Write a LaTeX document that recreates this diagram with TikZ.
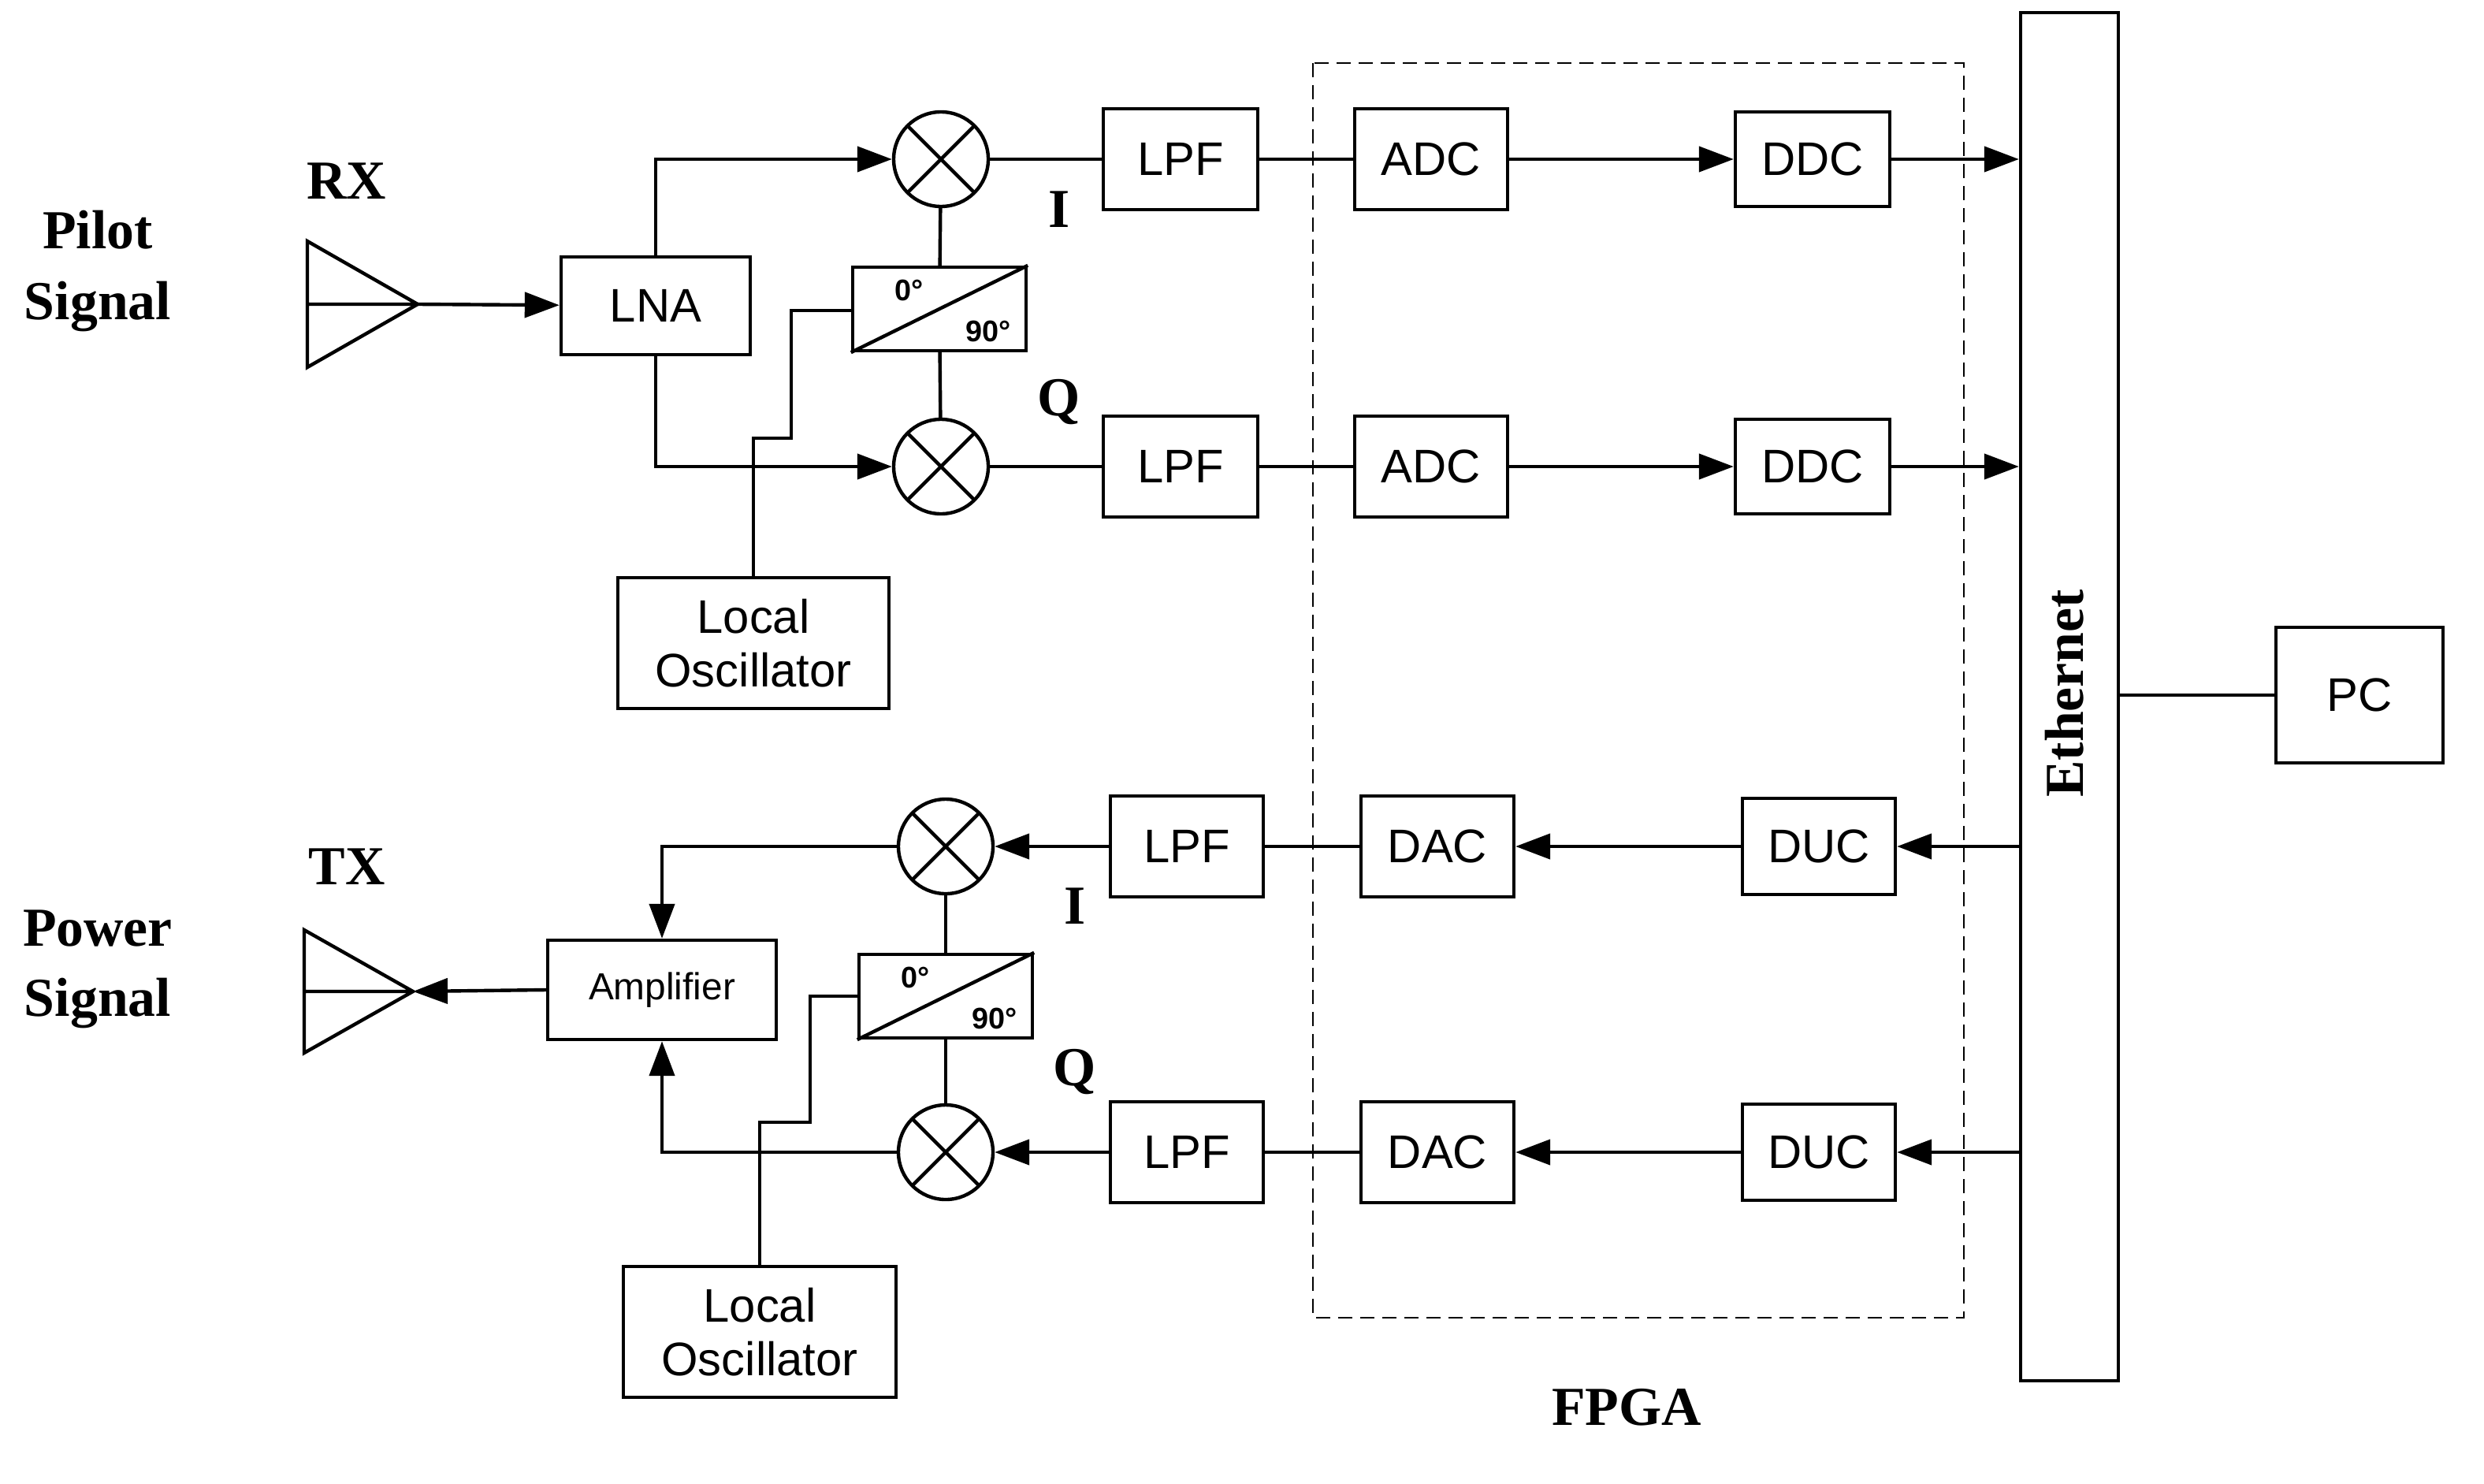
\documentclass[tikz,border=0pt]{standalone}
\usepackage{fontspec}
\setmainfont{Liberation Serif}
\setsansfont{Liberation Sans}
\usetikzlibrary{arrows.meta}
\begin{document}
\begin{tikzpicture}[x=1bp,y=-1bp,line width=2.2bp,
  box/.style={draw,inner sep=0pt,font=\sffamily\fontsize{30}{34}\selectfont,align=center},
  lbl/.style={font=\bfseries\fontsize{35}{45}\selectfont,align=center},
  arr/.style={-{Triangle[length=22bp,width=16bp]}},
  mix/.style={draw,circle,minimum size=60bp,inner sep=0pt,path picture={
    \draw ([shift={(-21bp,-21bp)}]path picture bounding box.center)--([shift={(21bp,21bp)}]path picture bounding box.center);
    \draw ([shift={(-21bp,21bp)}]path picture bounding box.center)--([shift={(21bp,-21bp)}]path picture bounding box.center);}}]
\useasboundingbox (0,0) rectangle (1576,941);
% labels
\node[lbl] at (62,172) {Pilot\\Signal};
\node[lbl] at (62,615) {Power\\Signal};
\node[lbl] at (220,115) {RX};
\node[lbl] at (220,550) {TX};
\node[lbl] at (1032,893) {FPGA};
\node[lbl] at (672,133) {I};
\node[lbl] at (672,255) {Q};
\node[lbl] at (682,575) {I};
\node[lbl] at (682,680) {Q};
% antennas
\draw (195,153) -- (265,193) -- (195,233) -- cycle (195,193) -- (265,193);
\coordinate (rxa) at (265,193);
\draw (193,590) -- (262,629) -- (193,668) -- cycle (193,629) -- (262,629);
\coordinate (txa) at (262,629);
% FPGA + Ethernet + PC
\draw[dash pattern=on 9bp off 5bp,line width=1.4bp] (833,40) rectangle (1246,836);
\node[box,minimum width=62bp,minimum height=868bp] (eth) at (1313,442) {};
\node[lbl,rotate=90] at (1310,440) {Ethernet};
\node[box,minimum width=106bp,minimum height=86bp] (pc) at (1497,441) {PC};
\draw (eth.east |- pc) -- (pc);
% RX chain
\node[box,minimum width=120bp,minimum height=62bp] (lna) at (416,194) {LNA};
\draw[arr] (rxa) -- (lna);
\foreach \r/\y in {i/101,q/296}{
  \node[mix] (m\r) at (597,\y) {};
  \node[box,minimum width=98bp,minimum height=64bp] (lpf\r) at (749,\y) {LPF};
  \node[box,minimum width=97bp,minimum height=64bp] (adc\r) at (908,\y) {ADC};
  \node[box,minimum width=98bp,minimum height=60bp] (ddc\r) at (1150,\y) {DDC};
  \draw (m\r) -- (lpf\r);
  \draw (lpf\r) -- (adc\r);
  \draw[arr] (adc\r) -- (ddc\r);
  \draw[arr] (ddc\r) -- (eth.west |- ddc\r);
}
\draw[arr] (lna.north) |- (mi);
\draw[arr] (lna.south) |- (mq);
\node[draw,minimum width=110bp,minimum height=53bp,inner sep=0pt] (ph1) at (596,196) {};
\draw (ph1.south west) -- (ph1.north east);
\node[font=\sffamily\bfseries\fontsize{19}{20}\selectfont] at (577,184) {0°};
\node[font=\sffamily\bfseries\fontsize{19}{20}\selectfont] at (627,210) {90°};
\draw (mi) -- (ph1); \draw (ph1) -- (mq);
\node[box,minimum width=172bp,minimum height=83bp] (lo1) at (478,408) {Local\\Oscillator};
\draw (lo1.north) -- (478,278) -- (502,278) -- (502,197) -- (ph1.west |- 0,197);
% TX chain
\node[box,minimum width=145bp,minimum height=63bp,font=\sffamily\fontsize{24}{28}\selectfont] (amp) at (420,628) {Amplifier};
\draw[arr] (amp.west) -- (txa);
\foreach \r/\y in {i/537,q/731}{
  \node[mix] (t\r) at (600,\y) {};
  \node[box,minimum width=97bp,minimum height=64bp] (tlpf\r) at (753,\y) {LPF};
  \node[box,minimum width=97bp,minimum height=64bp] (dac\r) at (912,\y) {DAC};
  \node[box,minimum width=97bp,minimum height=61bp] (duc\r) at (1154,\y) {DUC};
  \draw[arr] (eth.west |- duc\r) -- (duc\r);
  \draw[arr] (duc\r) -- (dac\r);
  \draw (dac\r) -- (tlpf\r);
  \draw[arr] (tlpf\r) -- (t\r);
}
\draw[arr] (ti) -| (amp.north);
\draw[arr] (tq) -| (amp.south);
\node[draw,minimum width=110bp,minimum height=53bp,inner sep=0pt] (ph2) at (600,632) {};
\draw (ph2.south west) -- (ph2.north east);
\node[font=\sffamily\bfseries\fontsize{19}{20}\selectfont] at (581,620) {0°};
\node[font=\sffamily\bfseries\fontsize{19}{20}\selectfont] at (631,646) {90°};
\draw (ti) -- (ph2); \draw (ph2) -- (tq);
\node[box,minimum width=173bp,minimum height=83bp] (lo2) at (482,845) {Local\\Oscillator};
\draw (lo2.north) -- (482,712) -- (514,712) -- (514,632) -- (ph2.west);
\end{tikzpicture}
\end{document}
